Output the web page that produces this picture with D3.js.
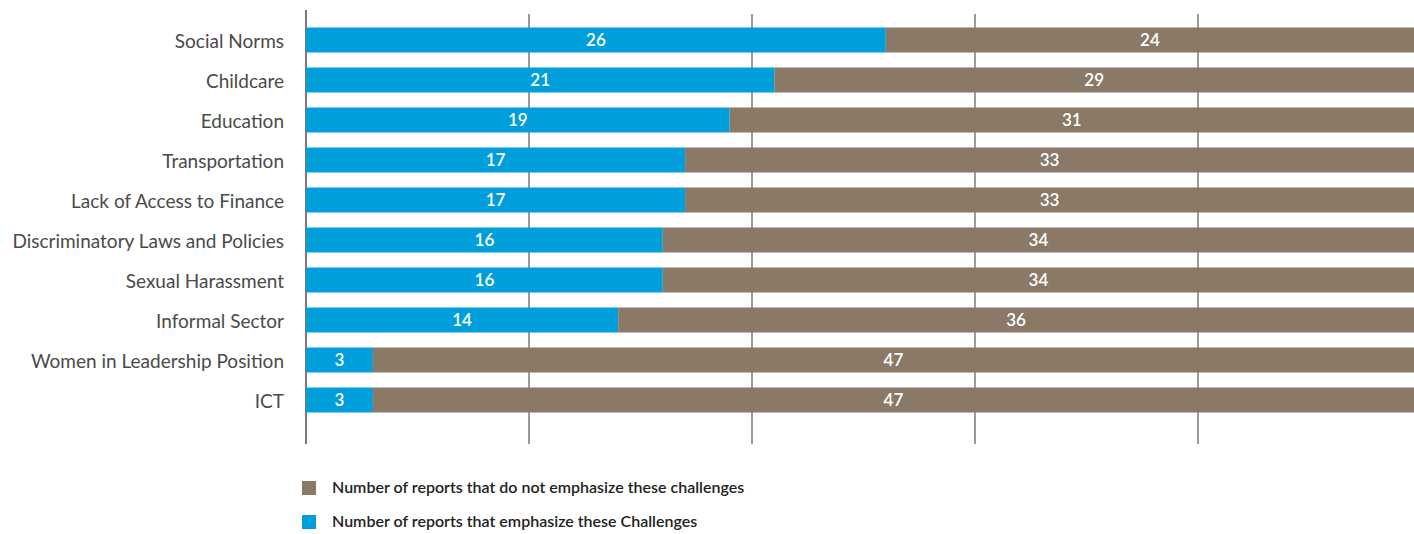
<!DOCTYPE html>
<html><head><meta charset="utf-8">
<script src="https://cdn.jsdelivr.net/npm/d3@7"></script>
<style>body{margin:0;background:#fff}svg{display:block}</style>
</head><body>
<script>
const categories = ["Social Norms","Childcare","Education","Transportation","Lack of Access to Finance","Discriminatory Laws and Policies","Sexual Harassment","Informal Sector","Women in Leadership Position","ICT"];
const emphasize = [26,21,19,17,17,16,16,14,3,3];
const notEmphasize = [24,29,31,33,33,34,34,36,47,47];
const xTicks = [0,10,20,30,40];
const legendLabels = ["Number of reports that do not emphasize these challenges","Number of reports that emphasize these Challenges"];

const W = 1414, H = 534;
const blue = "#009EDB", brown = "#8A7967";
const svg = d3.select("body").append("svg").attr("width", W).attr("height", H);
const x = d3.scaleLinear().domain([0,50]).range([306, 1421]);
const y = d3.scaleBand().domain(categories).range([20, 420]).paddingInner(0.375).paddingOuter(0.1875);

// gridlines
svg.append("g").selectAll("line").data(xTicks).join("line")
  .attr("x1", d => x(d)).attr("x2", d => x(d))
  .attr("y1", d => d === 0 ? 10 : 14).attr("y2", 444)
  .attr("stroke", d => d === 0 ? "#7a7a7a" : "#9a9a9a").attr("stroke-width", 2);

const rows = categories.map((c,i) => ({c, a: emphasize[i], b: notEmphasize[i]}));
const g = svg.append("g");
g.selectAll("rect.a").data(rows).join("rect").attr("class","a")
  .attr("x", x(0)).attr("y", d => y(d.c)).attr("width", d => x(d.a) - x(0)).attr("height", y.bandwidth()).attr("fill", blue);
g.selectAll("rect.b").data(rows).join("rect").attr("class","b")
  .attr("x", d => x(d.a)).attr("y", d => y(d.c)).attr("width", d => x(d.a + d.b) - x(d.a)).attr("height", y.bandwidth()).attr("fill", brown);

const font = "Lato, 'Open Sans', sans-serif";
g.selectAll("text.va").data(rows).join("text").attr("class","va")
  .attr("x", d => (x(0) + x(d.a)) / 2).attr("y", d => y(d.c) + y.bandwidth()/2)
  .attr("dy", "0.36em").attr("text-anchor","middle").attr("fill","#fff")
  .style("font-family", font).style("font-size","17px").style("font-weight","600").text(d => d.a);
g.selectAll("text.vb").data(rows).join("text").attr("class","vb")
  .attr("x", d => (x(d.a) + Math.min(x(d.a + d.b), W)) / 2).attr("y", d => y(d.c) + y.bandwidth()/2)
  .attr("dy", "0.36em").attr("text-anchor","middle").attr("fill","#fff")
  .style("font-family", font).style("font-size","17px").style("font-weight","600").text(d => d.b);

// category labels
svg.append("g").selectAll("text").data(categories).join("text")
  .attr("x", 284).attr("y", d => y(d) + y.bandwidth()/2 + 1)
  .attr("dy","0.36em").attr("text-anchor","end").attr("fill","#4a4a4a")
  .style("font-family", font).style("font-size","19px").text(d => d);

// legend
const leg = svg.append("g");
[brown, blue].forEach((col, i) => {
  leg.append("rect").attr("x", 302).attr("y", 481 + i*34).attr("width", 14).attr("height", 14).attr("fill", col);
  leg.append("text").attr("x", 332).attr("y", 487 + i*34).attr("dy","0.36em")
    .attr("fill","#222").style("font-family", font).style("font-size","16px").style("font-weight","600")
    .text(legendLabels[i]);
});
</script>
</body></html>
